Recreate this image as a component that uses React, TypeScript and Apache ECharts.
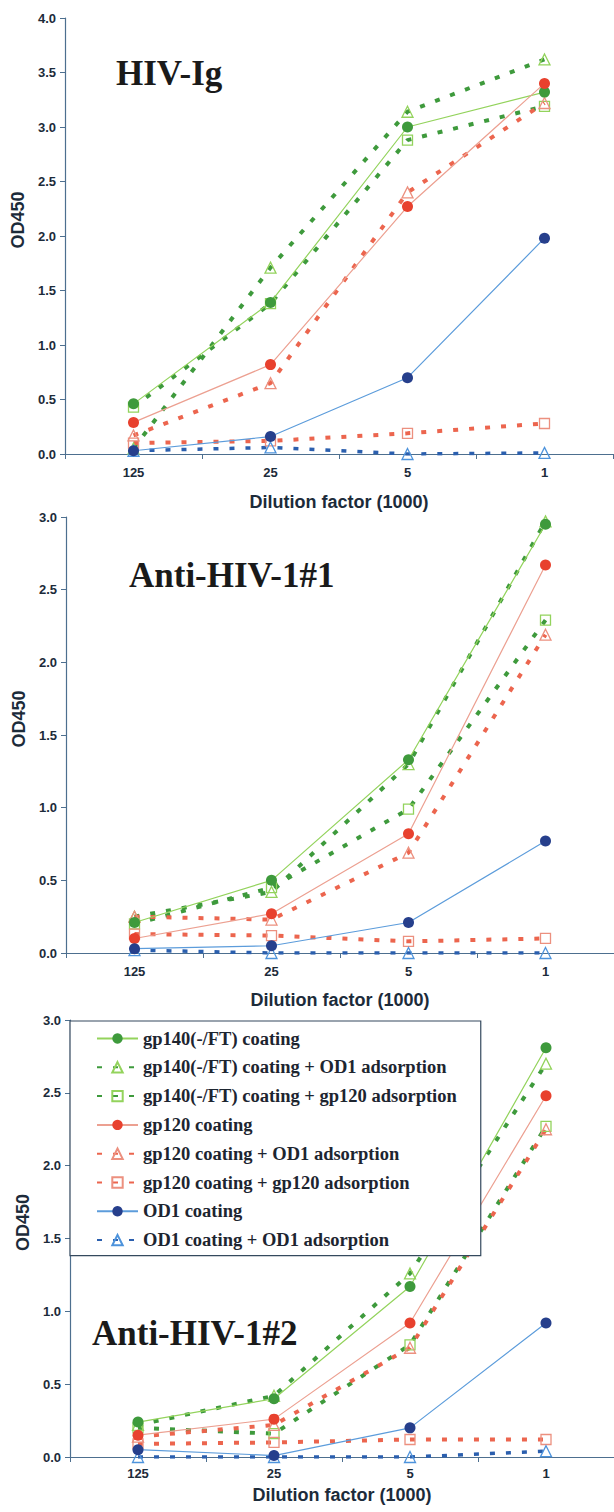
import React, { useEffect, useRef } from "react";
import * as echarts from "echarts";

const categories = ["125", "25", "5", "1"];
const seriesNames = [
  "gp140(-/FT) coating",
  "gp140(-/FT) coating + OD1 adsorption",
  "gp140(-/FT) coating + gp120 adsorption",
  "gp120 coating",
  "gp120 coating + OD1 adsorption",
  "gp120 coating + gp120 adsorption",
  "OD1 coating",
  "OD1 coating + OD1 adsorption",
];
const panelTitles = ["HIV-Ig", "Anti-HIV-1#1", "Anti-HIV-1#2"];
const panelMax = [4, 3, 3];

// Panel 1: HIV-Ig
const p1_gp140 = [0.46, 1.39, 3.0, 3.32];
const p1_gp140_od1 = [0.05, 1.71, 3.14, 3.62];
const p1_gp140_gp120 = [0.43, 1.38, 2.88, 3.19];
const p1_gp120 = [0.29, 0.82, 2.27, 3.4];
const p1_gp120_od1 = [0.17, 0.65, 2.4, 3.22];
const p1_gp120_gp120 = [0.1, 0.12, 0.19, 0.28];
const p1_od1 = [0.03, 0.16, 0.7, 1.98];
const p1_od1_od1 = [0.03, 0.06, 0.0, 0.01];

// Panel 2: Anti-HIV-1#1
const p2_gp140 = [0.21, 0.5, 1.33, 2.95];
const p2_gp140_od1 = [0.25, 0.42, 1.3, 2.97];
const p2_gp140_gp120 = [0.2, 0.45, 0.99, 2.29];
const p2_gp120 = [0.1, 0.27, 0.82, 2.67];
const p2_gp120_od1 = [0.25, 0.23, 0.69, 2.19];
const p2_gp120_gp120 = [0.13, 0.12, 0.08, 0.1];
const p2_od1 = [0.03, 0.05, 0.21, 0.77];
const p2_od1_od1 = [0.02, 0.0, 0.0, 0.0];

// Panel 3: Anti-HIV-1#2
const p3_gp140 = [0.24, 0.4, 1.17, 2.81];
const p3_gp140_od1 = [0.22, 0.42, 1.26, 2.7];
const p3_gp140_gp120 = [0.2, 0.16, 0.77, 2.27];
const p3_gp120 = [0.15, 0.26, 0.92, 2.48];
const p3_gp120_od1 = [0.14, 0.22, 0.75, 2.25];
const p3_gp120_gp120 = [0.09, 0.1, 0.12, 0.12];
const p3_od1 = [0.05, 0.01, 0.2, 0.92];
const p3_od1_od1 = [0.0, 0.0, 0.0, 0.04];

const panels = [
  [p1_gp140, p1_gp140_od1, p1_gp140_gp120, p1_gp120, p1_gp120_od1, p1_gp120_gp120, p1_od1, p1_od1_od1],
  [p2_gp140, p2_gp140_od1, p2_gp140_gp120, p2_gp120, p2_gp120_od1, p2_gp120_gp120, p2_od1, p2_od1_od1],
  [p3_gp140, p3_gp140_od1, p3_gp140_gp120, p3_gp120, p3_gp120_od1, p3_gp120_gp120, p3_od1, p3_od1_od1],
];

const G_DARK = "#3e9a3c";
const G_LIGHT = "#93d35c";
const R_DARK = "#e8412e";
const R_DASH = "#ec654e";
const R_LIGHT = "#eca091";
const R_HOLLOW = "#ec907f";
const B_DARK = "#263f8c";
const B_DASH = "#2b5fae";
const B_LIGHT = "#5c9cdb";
const B_HOLLOW = "#4d93dc";
const DASH: number[] = [5, 11];

const styles = [
  { symbol: "circle", size: 11, fill: G_DARK, border: G_DARK, bw: 0, line: G_LIGHT, width: 1.2, type: "solid" as any },
  { symbol: "triangle", size: 11, fill: "rgba(255,255,255,0)", border: G_LIGHT, bw: 1.3, line: G_DARK, width: 4, type: DASH },
  { symbol: "rect", size: 10, fill: "rgba(255,255,255,0)", border: G_LIGHT, bw: 1.3, line: G_DARK, width: 4, type: DASH },
  { symbol: "circle", size: 11, fill: R_DARK, border: R_DARK, bw: 0, line: R_LIGHT, width: 1.2, type: "solid" },
  { symbol: "triangle", size: 11, fill: "rgba(255,255,255,0)", border: R_HOLLOW, bw: 1.3, line: R_DASH, width: 4, type: DASH },
  { symbol: "rect", size: 10, fill: "rgba(255,255,255,0)", border: R_HOLLOW, bw: 1.3, line: R_DASH, width: 4, type: DASH },
  { symbol: "circle", size: 11, fill: B_DARK, border: B_DARK, bw: 0, line: B_LIGHT, width: 1.2, type: "solid" },
  { symbol: "triangle", size: 11, fill: "rgba(255,255,255,0)", border: B_HOLLOW, bw: 1.3, line: B_DASH, width: 3.5, type: DASH },
];

const grids = [
  { left: 65, top: 18, width: 548, height: 436 },
  { left: 66, top: 517, width: 548, height: 436 },
  { left: 70, top: 1020, width: 546, height: 437 },
];
const xNameGaps = [39, 38, 29];
const xLabelMargins = [12, 12, 10];
const titlePos = [
  { x: 116, y: 73 },
  { x: 129, y: 575 },
  { x: 92, y: 1333 },
];

const AXIS_COLOR = "#4d6f8f";
const LABEL_COLOR = "#1c2b3a";
const SANS = '"Liberation Sans", Arial, sans-serif';
const SERIF = '"Liberation Serif", "Times New Roman", serif';

export default function App() {
  const ref = useRef<HTMLDivElement>(null);
  useEffect(() => {
    if (!ref.current) return;
    const chart = echarts.init(ref.current, null, { renderer: "svg" });
    const xAxis: any[] = [];
    const yAxis: any[] = [];
    const series: any[] = [];
    grids.forEach((g, i) => {
      xAxis.push({
        type: "category",
        gridIndex: i,
        data: categories,
        boundaryGap: true,
        name: "Dilution factor (1000)",
        nameLocation: "middle",
        nameGap: xNameGaps[i],
        nameTextStyle: { fontFamily: SANS, fontWeight: "bold", fontSize: 18, color: LABEL_COLOR },
        axisLine: { lineStyle: { color: AXIS_COLOR, width: 1.2 } },
        axisTick: { show: true, alignWithLabel: false, length: 5, lineStyle: { color: AXIS_COLOR } },
        axisLabel: { fontFamily: SANS, fontWeight: "bold", fontSize: 13, color: LABEL_COLOR, margin: xLabelMargins[i] },
        splitLine: { show: false },
      });
      yAxis.push({
        type: "value",
        gridIndex: i,
        min: 0,
        max: panelMax[i],
        interval: 0.5,
        name: "OD450",
        nameLocation: "middle",
        nameRotate: 90,
        nameGap: 33,
        nameTextStyle: { fontFamily: SANS, fontWeight: "bold", fontSize: 18, color: LABEL_COLOR, padding: [0, 0, 0, 32] },
        axisLine: { show: true, lineStyle: { color: AXIS_COLOR, width: 1.2 } },
        axisTick: { show: true, length: 5, lineStyle: { color: AXIS_COLOR } },
        axisLabel: {
          fontFamily: SANS,
          fontWeight: "bold",
          fontSize: 13,
          color: LABEL_COLOR,
          margin: 9,
          formatter: (v: number) => v.toFixed(1),
        },
        splitLine: { show: false },
      });
      panels[i].forEach((data, k) => {
        const s = styles[k];
        series.push({
          type: "line",
          name: seriesNames[k],
          xAxisIndex: i,
          yAxisIndex: i,
          data: data,
          symbol: s.symbol,
          symbolSize: s.size,
          showSymbol: true,
          itemStyle: { color: s.fill, borderColor: s.border, borderWidth: s.bw },
          lineStyle: { color: s.line, width: s.width, type: s.type, cap: "butt" },
          z: s.type === "solid" ? 3 : 2,
          silent: true,
        });
      });
    });
    const graphic: any[] = panelTitles.map((t, i) => ({
      type: "text",
      x: titlePos[i].x,
      y: titlePos[i].y,
      z: 20,
      style: {
        text: t,
        font: `bold 35px ${SERIF}`,
        fill: "#1a1a1a",
        align: "left",
        verticalAlign: "middle",
      },
    }));
    chart.setOption({
      animation: false,
      backgroundColor: "#ffffff",
      grid: grids,
      xAxis,
      yAxis,
      series,
      graphic,
      legend: {
        data: seriesNames,
        orient: "vertical",
        left: 70,
        top: 1021,
        padding: [8, 24, 6, 26],
        itemWidth: 41,
        itemHeight: 13,
        itemGap: 9.8,
        backgroundColor: "#ffffff",
        borderColor: "#34495e",
        borderWidth: 1.2,
        selectedMode: false,
        textStyle: { fontFamily: SERIF, fontWeight: "bold", fontSize: 18.5, color: "#1d2530", lineHeight: 18 },
      },
    });
    return () => chart.dispose();
  }, []);
  return <div ref={ref} style={{ position: "absolute", left: 0, top: 0, width: 614, height: 1512 }} />;
}
